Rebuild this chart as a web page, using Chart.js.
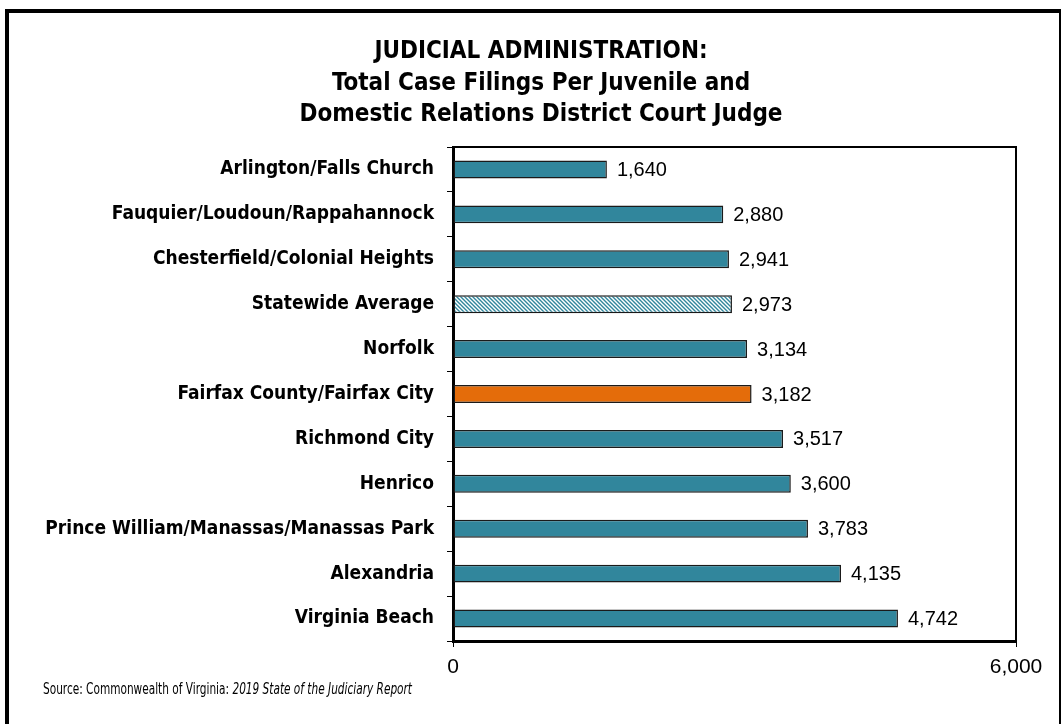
<!DOCTYPE html>
<html>
<head>
<meta charset="utf-8">
<script src="https://cdn.jsdelivr.net/npm/chart.js@4"></script>
<style>
  html, body { margin: 0; padding: 0; background: #fff; }
  #wrap { position: relative; width: 1063px; height: 724px; overflow: hidden; }
  #frame { position: absolute; left: 5px; top: 9px; width: 1056px; height: 730px;
           border: 4px solid #000; border-right-width: 2px; border-bottom: none;
           box-sizing: border-box; pointer-events: none; }
  canvas { position: absolute; left: 0; top: 0; }
</style>
</head>
<body>
<div id="wrap">
  <canvas id="myChart" width="1063" height="724"></canvas>
  <div id="frame"></div>
</div>
<script>
const categories = [
  'Arlington/Falls Church',
  'Fauquier/Loudoun/Rappahannock',
  'Chesterfield/Colonial Heights',
  'Statewide Average',
  'Norfolk',
  'Fairfax County/Fairfax City',
  'Richmond City',
  'Henrico',
  'Prince William/Manassas/Manassas Park',
  'Alexandria',
  'Virginia Beach'
]
const filings = [1640, 2880, 2941, 2973, 3134, 3182, 3517, 3600, 3783, 4135, 4742]
const xTicks = [0, 6000]
const titleLines = [
  'JUDICIAL ADMINISTRATION:',
  'Total Case Filings Per Juvenile and',
  'Domestic Relations District Court Judge'
]

const FONT = '"DejaVu Sans Condensed", "Liberation Sans", sans-serif'
const NUMFONT = '"Liberation Sans", Arial, sans-serif'
const TEAL = '#31869c'
const ORANGE = '#e46c0a'

// diagonal hatch for the statewide average
function makeHatch() {
  const c = document.createElement('canvas')
  c.width = 4; c.height = 4
  const g = c.getContext('2d')
  g.fillStyle = '#ffffff'
  g.fillRect(0, 0, 4, 4)
  g.strokeStyle = TEAL
  g.lineWidth = 1.4
  g.beginPath()
  g.moveTo(-1, -1); g.lineTo(5, 5)
  g.moveTo(-1, 3); g.lineTo(1, 5)
  g.moveTo(3, -1); g.lineTo(5, 1)
  g.stroke()
  return g.createPattern(c, 'repeat')
}

const el = document.getElementById('myChart')
const ctx = el.getContext('2d')
const hatch = makeHatch()

const colors = categories.map(c => {
  if (c === 'Statewide Average') return hatch
  if (c.startsWith('Fairfax')) return ORANGE
  return TEAL
})

// draw text squeezed to a target width
function fitText(c, text, x, y, width) {
  const w = c.measureText(text).width
  c.save()
  c.translate(x, y)
  c.scale(Math.min(1, width / w), 1)
  c.fillText(text, 0, 0)
  c.restore()
  return Math.min(w, width)
}

const decorations = {
  id: 'decorations',
  afterDatasetsDraw(chart) {
    const c = chart.ctx
    const area = chart.chartArea
    // thin top/right frame of the plot area
    c.save()
    c.strokeStyle = '#000'
    c.lineWidth = 2
    c.beginPath()
    c.moveTo(area.left, area.top)
    c.lineTo(area.right, area.top)
    c.lineTo(area.right, area.bottom)
    c.stroke()

    // value labels
    c.fillStyle = '#000'
    c.font = '20px ' + NUMFONT
    c.textBaseline = 'middle'
    c.textAlign = 'left'
    chart.getDatasetMeta(0).data.forEach((bar, i) => {
      c.fillText(filings[i].toLocaleString('en-US'), bar.x + 10, bar.y + 1)
    })

    // title
    c.font = 'bold 24px ' + FONT
    c.textAlign = 'center'
    titleLines.forEach((t, i) => c.fillText(t, 541, 52 + i * 31.5))

    // source
    c.textAlign = 'left'
    const lead = 'Source: Commonwealth of Virginia: '
    const rest = '2019 State of the Judiciary Report'
    c.font = '16px ' + FONT
    const w1 = c.measureText(lead).width
    c.font = 'italic 16px ' + FONT
    const w2 = c.measureText(rest).width
    const k = 369 / (w1 + w2)
    c.font = '16px ' + FONT
    fitText(c, lead, 43, 690, w1 * k)
    c.font = 'italic 16px ' + FONT
    fitText(c, rest, 43 + w1 * k, 690, w2 * k)
    c.restore()
  }
}

Chart.register(decorations)

const config = {
  type: 'bar',
  data: {
    labels: categories,
    datasets: [{
      data: filings,
      backgroundColor: colors,
      borderColor: '#1a1a1a',
      borderWidth: 1.5,
      borderSkipped: false,
      categoryPercentage: 1,
      barPercentage: 0.4
    }]
  },
  options: {
    indexAxis: 'y',
    responsive: false,
    animation: false,
    layout: { padding: { left: 0, right: 47, top: 147, bottom: 43 } },
    plugins: {
      legend: { display: false },
      tooltip: { enabled: false }
    },
    scales: {
      x: {
        min: xTicks[0],
        max: xTicks[1],
        afterBuildTicks: scale => { scale.ticks = xTicks.map(v => ({ value: v })) },
        afterFit: scale => { scale.height = 40 },
        ticks: {
          color: '#000',
          font: { family: NUMFONT, size: 21 },
          padding: 8,
          maxRotation: 0,
          callback: v => v.toLocaleString('en-US')
        },
        grid: { drawOnChartArea: false, tickLength: 6, color: '#000', lineWidth: 1 },
        border: { color: '#000', width: 3 }
      },
      y: {
        afterFit: scale => { scale.width = 453 },
        ticks: {
          color: '#000',
          font: { family: FONT, size: 19, weight: 'bold' },
          padding: 13
        },
        grid: { offset: true, drawOnChartArea: false, tickLength: 6, color: '#000', lineWidth: 1 },
        border: { color: '#000', width: 3 }
      }
    }
  }
}

new Chart(el, config)
</script>
</body>
</html>
